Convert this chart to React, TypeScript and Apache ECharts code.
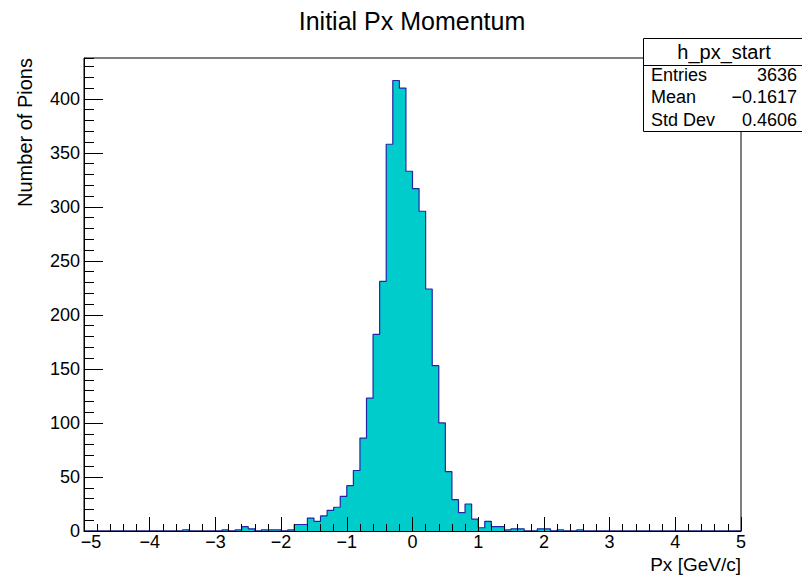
import React, { useEffect, useRef } from "react";
import * as echarts from "echarts";

// ---- data ----
const histName = "h_px_start";
const chartTitle = "Initial Px Momentum";
const xTitle = "Px [GeV/c]";
const yTitle = "Number of Pions";
const xRange = [-5, 5];
// 100 bins of width 0.1 from -5 to 5
const binValues = [
  0, 0, 0, 0, 0, 0, 0, 0, 0, 0,
  0, 0, 0, 0, 0, 1, 0, 0, 0, 0,
  0, 1, 0, 1, 4, 2, 0, 1, 1, 1,
  0, 1, 6, 6, 12, 9, 14, 19, 22, 32,
  42, 56, 86, 123, 182, 231, 358, 417, 410, 333,
  317, 296, 224, 153, 100, 55, 29, 17, 25, 11,
  3, 9, 4, 4, 1, 2, 2, 0, 0, 2,
  2, 0, 1, 0, 0, 1, 0, 0, 0, 0,
  0, 0, 0, 0, 0, 0, 0, 0, 0, 0,
  0, 0, 0, 0, 0, 0, 0, 0, 0, 0,
];
const statLabels = ["Entries", "Mean", "Std Dev"];
const statValues = ["3636", "\u22120.1617", "0.4606"];

const FONT = "'Liberation Sans', Arial, Helvetica, sans-serif";
const FILL = "#00cccc";
const LINE = "#2424a8";

export default function App() {
  const ref = useRef<HTMLDivElement>(null);
  useEffect(() => {
    if (!ref.current) return;
    const chart = echarts.init(ref.current, undefined, { renderer: "svg" });
    const n = binValues.length;
    const bw = (xRange[1] - xRange[0]) / n;
    const pts: number[][] = [];
    for (let i = 0; i < n; i++) pts.push([xRange[0] + i * bw, binValues[i]]);
    pts.push([xRange[1], binValues[n - 1]]);
    const yMax = 1.05 * Math.max(...binValues);
    const minus = (v: number) => String(v).replace("-", "\u2212");

    const left = 84, right = 741, top = 58, bottom = 531;
    const boxX = 643.5, boxY = 38.5, boxW = 160, boxH = 93, headH = 27;

    const graphic: any[] = [
      {
        type: "text", x: 412, y: 21,
        style: { text: chartTitle, fontSize: 25, fontFamily: FONT, fill: "#000", align: "center", verticalAlign: "middle", textAlign: "center", textVerticalAlign: "middle" },
      },
      {
        type: "text", x: 741, y: 564,
        style: { text: xTitle, fontSize: 19, fontFamily: FONT, fill: "#000", align: "right", verticalAlign: "middle", textAlign: "right", textVerticalAlign: "middle" },
      },
      {
        type: "text", x: 25, y: 58, rotation: Math.PI / 2,
        style: { text: yTitle, fontSize: 20, fontFamily: FONT, fill: "#000", align: "right", verticalAlign: "middle", textAlign: "right", textVerticalAlign: "middle" },
      },
      {
        type: "rect", z: 100,
        shape: { x: boxX, y: boxY, width: boxW, height: boxH },
        style: { fill: "#fff", stroke: "#000", lineWidth: 1 },
      },
      {
        type: "line", z: 101,
        shape: { x1: boxX, y1: boxY + headH, x2: boxX + boxW, y2: boxY + headH },
        style: { stroke: "#000", lineWidth: 1 },
      },
      {
        type: "text", z: 102, x: 724, y: boxY + headH / 2,
        style: { text: histName, fontSize: 20, fontFamily: FONT, fill: "#000", align: "center", verticalAlign: "middle", textAlign: "center", textVerticalAlign: "middle" },
      },
    ];
    statLabels.forEach((lab, i) => {
      const cy = 74.5 + i * 22.5;
      graphic.push({
        type: "text", z: 102, x: 651, y: cy,
        style: { text: lab, fontSize: 18, fontFamily: FONT, fill: "#000", align: "left", verticalAlign: "middle", textAlign: "left", textVerticalAlign: "middle" },
      });
      graphic.push({
        type: "text", z: 102, x: 797, y: cy,
        style: { text: statValues[i], fontSize: 18, fontFamily: FONT, fill: "#000", align: "right", verticalAlign: "middle", textAlign: "right", textVerticalAlign: "middle" },
      });
    });

    chart.setOption({
      animation: false,
      backgroundColor: "#fff",
      textStyle: { fontFamily: FONT },
      grid: {
        left, top, width: right - left, height: bottom - top,
        show: true, borderColor: "#000", borderWidth: 1, backgroundColor: "transparent",
        containLabel: false,
      },
      xAxis: {
        type: "value", min: xRange[0], max: xRange[1], interval: 1, z: 5,
        axisLine: { show: true, onZero: false, lineStyle: { color: "#000", width: 1 } },
        axisTick: { show: true, inside: true, length: 14, lineStyle: { color: "#000" } },
        minorTick: { show: true, splitNumber: 5, length: 7, lineStyle: { color: "#000" } },
        splitLine: { show: false },
        minorSplitLine: { show: false },
        axisLabel: {
          color: "#000", fontSize: 18, lineHeight: 12, fontFamily: FONT, margin: 5,
          formatter: (v: number) => (v === xRange[0] ? `{f|${minus(v)}}` : minus(v)),
          rich: {
            f: { color: "#000", fontSize: 18, lineHeight: 12, fontFamily: FONT, padding: [0, 0, 0, 14] },
          },
        },
      },
      yAxis: [
        {
          type: "value", min: 0, max: yMax, interval: 50, position: "left", z: 5,
          axisLine: { show: true, onZero: false, lineStyle: { color: "#000", width: 1 } },
          axisTick: { show: true, inside: true, length: 19, lineStyle: { color: "#000" } },
          splitLine: { show: false },
          axisLabel: {
            color: "#000", fontSize: 18, lineHeight: 12, fontFamily: FONT, margin: 4, showMaxLabel: false,
            formatter: (v: number) => (Math.abs(v % 50) < 1e-6 ? String(v) : ""),
          },
        },
        {
          type: "value", min: 0, max: yMax, interval: 10, position: "left", offset: 0, z: 5,
          axisLine: { show: false, onZero: false },
          axisTick: { show: true, inside: true, length: 10, lineStyle: { color: "#000" } },
          splitLine: { show: false },
          axisLabel: { show: false },
        },
      ],
      series: [
        {
          type: "line",
          step: "end",
          data: pts,
          yAxisIndex: 0,
          symbol: "none",
          z: 1,
          lineStyle: { color: LINE, width: 1.2 },
          areaStyle: { color: FILL, opacity: 1 },
          silent: true,
        },
      ],
      graphic,
    });
    return () => chart.dispose();
  }, []);
  return (
    <div
      ref={ref}
      style={{ position: "fixed", left: 0, top: 0, width: 802, height: 575, background: "#fff" }}
    />
  );
}
